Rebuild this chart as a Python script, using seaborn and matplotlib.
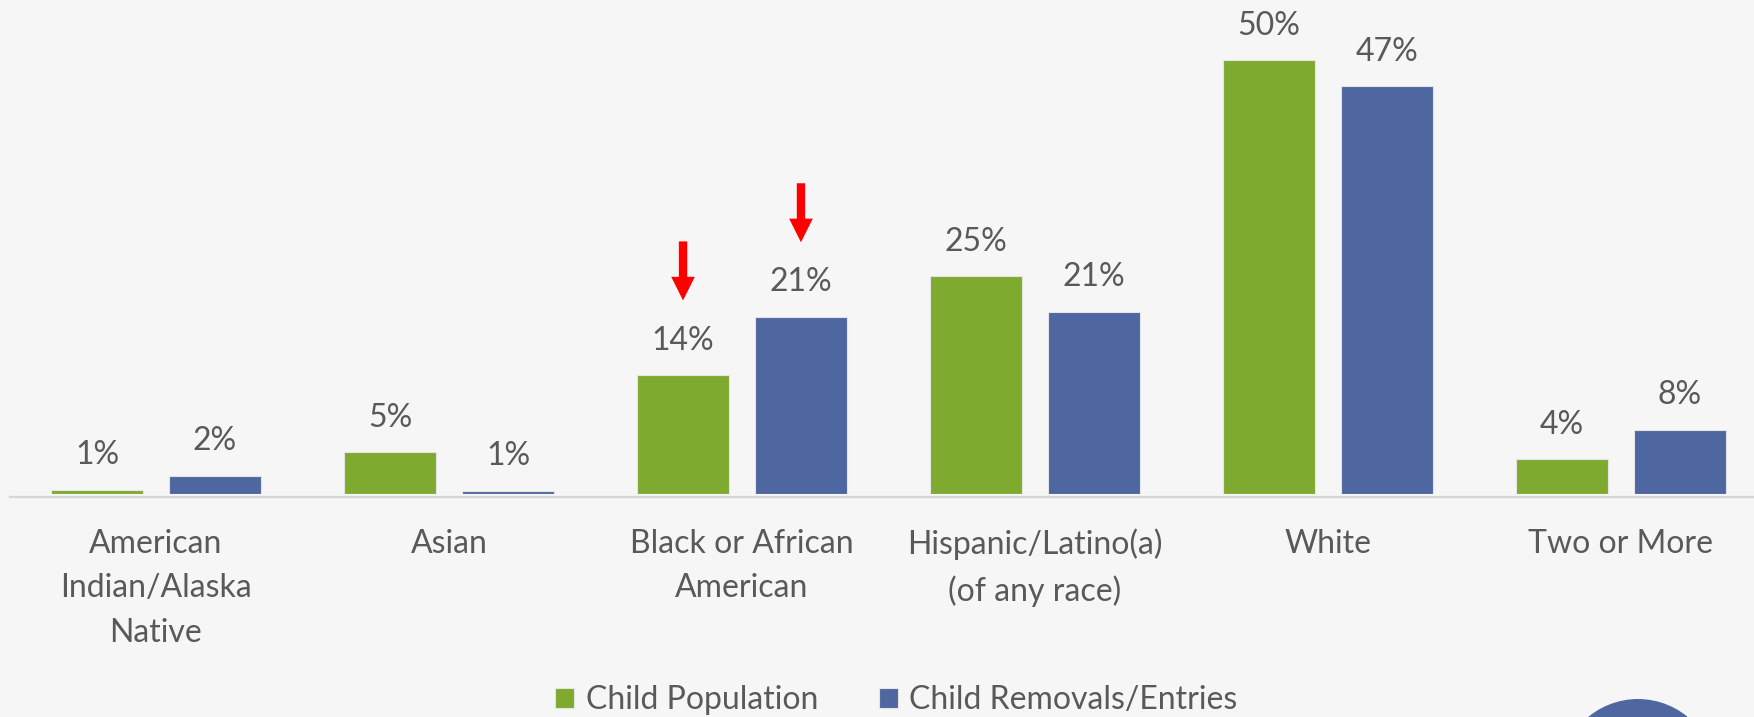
import matplotlib
matplotlib.use("Agg")
import matplotlib.pyplot as plt
import seaborn as sns
import pandas as pd
from matplotlib.patches import Ellipse

# ---- data ----
categories = ["American\nIndian/Alaska\nNative", "Asian", "Black or African\nAmerican",
              "Hispanic/Latino(a)\n(of any race)", "White", "Two or More"]
series_names = ["Child Population", "Child Removals/Entries"]
child_population = [0.5, 4.8, 13.7, 25.1, 50.0, 4.0]
child_removals = [2.1, 0.4, 20.4, 21.0, 47.0, 7.4]
pop_labels = ["1%", "5%", "14%", "25%", "50%", "4%"]
rem_labels = ["2%", "1%", "21%", "21%", "47%", "8%"]
highlight_category = "Black or African\nAmerican"

colors = ["#7FAA30", "#4F67A0"]
bg = "#F6F6F6"
text_color = "#595959"

sns.set_style("white")
plt.rcParams["font.family"] = ["Lato", "DejaVu Sans"]

df = pd.DataFrame({
    "category": categories * 2,
    "series": [s for s in series_names for _ in categories],
    "value": child_population + child_removals,
})

fig = plt.figure(figsize=(17.54, 7.17), dpi=100, facecolor=bg)
ax = fig.add_axes([9.5 / 1754, (717 - 494) / 717, 1758 / 1754, 56 * 8.68 / 717])
ax.set_facecolor(bg)

sns.barplot(data=df, x="category", y="value", hue="series", palette=colors,
            saturation=1, width=0.805, gap=0.212, edgecolor="#E4E4E4", linewidth=0.8,
            ax=ax, legend=True)

ax.set_xlim(-0.5, 5.5)
ax.set_ylim(0, 56)
ax.set_xlabel("")
ax.set_ylabel("")
ax.set_yticks([])
for s in ["top", "right", "left"]:
    ax.spines[s].set_visible(False)
ax.spines["bottom"].set_color("#D6D6D6")
ax.spines["bottom"].set_linewidth(1.6)
ax.spines["bottom"].set_position(("outward", 2))

ax.tick_params(axis="x", length=0, pad=23, labelsize=23, labelcolor=text_color)
for t in ax.get_xticklabels():
    t.set_linespacing(1.6)

for container, labels in zip(ax.containers, [pop_labels, rem_labels]):
    ax.bar_label(container, labels=labels, padding=14, fontsize=23, color=text_color)

# red arrows over the highlighted category
idx = categories.index(highlight_category)
for container in ax.containers:
    bar = container[idx]
    x = bar.get_x() + bar.get_width() / 2
    h = bar.get_height()
    ax.annotate("", xy=(x, h + 8.6), xytext=(x, h + 15.4),
                arrowprops=dict(arrowstyle="simple,head_length=17,head_width=17,tail_width=6",
                                mutation_scale=1, color="#FF0000", shrinkA=0, shrinkB=0, lw=0))

handles, labels = ax.get_legend_handles_labels()
ax.get_legend().remove()
fig.legend(handles, labels, loc="center", bbox_to_anchor=(0.511, 17 / 717), ncol=2,
           frameon=False, fontsize=23, labelcolor=text_color, handlelength=0.6,
           handleheight=0.6, handletextpad=0.35, columnspacing=1.9)

# partial logo at bottom right
fig.patches.append(Ellipse((1638 / 1754, (717 - 777) / 717), 156 / 1754, 156 / 717,
                           transform=fig.transFigure, facecolor="#4F67A0", edgecolor="none"))

fig.savefig("out.png", dpi=100, facecolor=bg)
